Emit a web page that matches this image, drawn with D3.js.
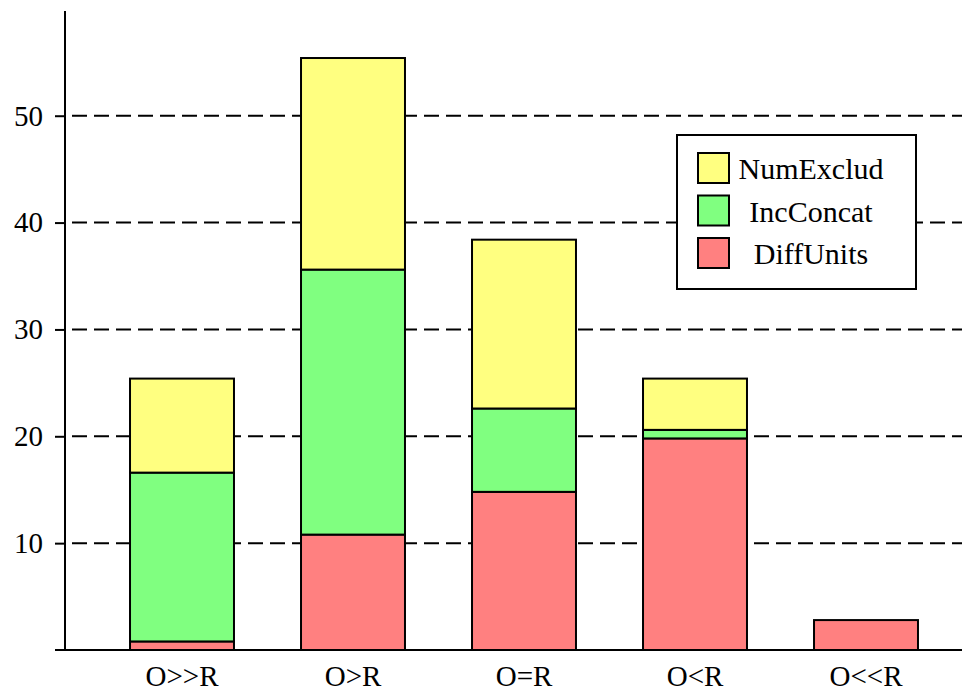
<!DOCTYPE html>
<html>
<head>
<meta charset="utf-8">
<script src="https://cdn.jsdelivr.net/npm/d3@7"></script>
<style>
  html, body { margin: 0; padding: 0; background: #fff; }
  svg { display: block; }
  svg text { font-family: "Liberation Serif", "Times New Roman", Times, "DejaVu Serif", serif !important; fill: #000; }
</style>
</head>
<body>
<svg id="chart" width="962" height="689"></svg>
<script>
const categories = ["O>>R", "O>R", "O=R", "O<R", "O<<R"];
const seriesNames = ["DiffUnits", "IncConcat", "NumExclud"];
const diffUnits = [0.8, 10.8, 14.8, 19.8, 2.8];
const incConcat = [15.8, 24.8, 7.8, 0.8, 0];
const numExclud = [8.8, 19.8, 15.8, 4.8, 0];
const yTicks = [10, 20, 30, 40, 50];
const colors = { DiffUnits: "#ff8080", IncConcat: "#80ff80", NumExclud: "#ffff80" };

const rows = categories.map((c, i) => ({
  cat: c, DiffUnits: diffUnits[i], IncConcat: incConcat[i], NumExclud: numExclud[i]
}));

const svg = d3.select("#chart");
const x = d3.scaleBand().domain(categories).range([96.5, 951.5])
  .paddingInner(0.392).paddingOuter(0.196);
const y = d3.scaleLinear().domain([0, 59.8]).range([650, 11]);

// gridlines
svg.append("g").selectAll("line").data(yTicks).join("line")
  .attr("x1", 65).attr("x2", 962)
  .attr("y1", d => y(d)).attr("y2", d => y(d))
  .attr("stroke", "#000").attr("stroke-width", 2)
  .attr("stroke-dasharray", "15,7").attr("stroke-dashoffset", -7);

// y axis
const yAxis = d3.axisLeft(y).tickValues(yTicks).tickSize(10).tickPadding(12);
const gy = svg.append("g").attr("transform", "translate(65,0)").call(yAxis)
  .attr("font-family", null).attr("font-size", null);
gy.select(".domain").remove();
gy.selectAll(".tick line").attr("stroke", "#000").attr("stroke-width", 2);
gy.selectAll(".tick text").style("font-size", "29px").attr("fill", "#000");
svg.append("line").attr("x1", 65).attr("x2", 65).attr("y1", y.range()[1]).attr("y2", 650)
  .attr("stroke", "#000").attr("stroke-width", 2);

// stacked bars
const stack = d3.stack().keys(seriesNames)(rows);
svg.append("g").selectAll("g").data(stack).join("g")
  .attr("fill", d => colors[d.key])
  .selectAll("rect").data(d => d.filter(s => s[1] - s[0] > 0)).join("rect")
  .attr("x", d => x(d.data.cat))
  .attr("width", x.bandwidth())
  .attr("y", d => y(d[1]))
  .attr("height", d => y(d[0]) - y(d[1]))
  .attr("stroke", "#000").attr("stroke-width", 2);

// x axis baseline
svg.append("line").attr("x1", 55).attr("x2", 962).attr("y1", 650).attr("y2", 650)
  .attr("stroke", "#000").attr("stroke-width", 2);
const xAxis = d3.axisBottom(x).tickSize(0).tickPadding(15);
const gx = svg.append("g").attr("transform", "translate(0,650)").call(xAxis)
  .attr("font-family", null).attr("font-size", null);
gx.select(".domain").remove();
gx.selectAll(".tick text").style("font-size", "29px").attr("fill", "#000");

// legend
const legendItems = ["NumExclud", "IncConcat", "DiffUnits"];
const lg = svg.append("g").attr("transform", "translate(677,135)");
lg.append("rect").attr("width", 239).attr("height", 154)
  .attr("fill", "#fff").attr("stroke", "#000").attr("stroke-width", 2);
const li = lg.selectAll("g.item").data(legendItems).join("g")
  .attr("class", "item").attr("transform", (d, i) => `translate(21,${18 + i * 42.5})`);
li.append("rect").attr("width", 31).attr("height", 30)
  .attr("fill", d => colors[d]).attr("stroke", "#000").attr("stroke-width", 2);
li.append("text").attr("x", 113).attr("y", 26).attr("text-anchor", "middle")
  .style("font-size", "30px").text(d => d);
</script>
</body>
</html>
